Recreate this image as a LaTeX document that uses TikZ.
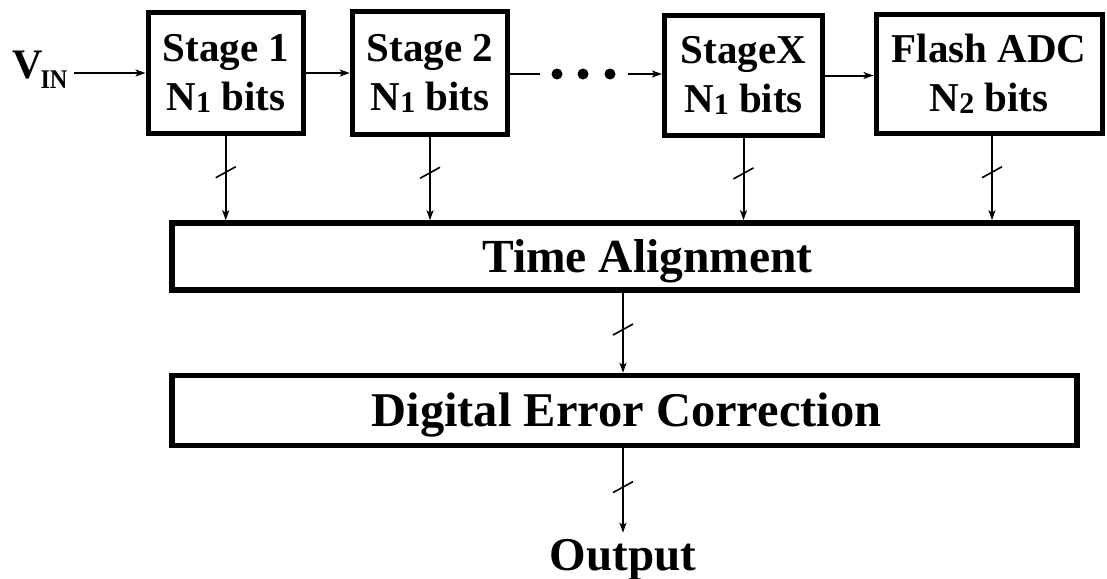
\documentclass[tikz,border=0pt]{standalone}
\usepackage{fontspec}
\usepackage{graphicx}
\setmainfont{Liberation Serif}
\usetikzlibrary{arrows.meta,calc}
% lowered, smaller index digit as in "N1"
\newcommand\lowdigit[1]{\raisebox{-2pt}{\fontsize{30}{30}\selectfont #1}}
\begin{document}
\begin{tikzpicture}[x=1pt,y=-1pt,
  stagebox/.style={draw, line width=5pt, inner sep=0pt, align=center,
    font=\bfseries\fontsize{41}{49}\selectfont},
  widebox/.style={draw, line width=5.5pt, inner sep=0pt, minimum width=905pt,
    text height=31.8pt, text depth=0pt,
    font=\bfseries\fontsize{47.5}{50}\selectfont},
  arr/.style={line width=2pt, -{Stealth[length=10pt,width=7pt,inset=2.5pt]}},
  wire/.style={line width=2pt},
  buslash/.style={line width=1.6pt},
  dotmark/.style={circle, fill, inner sep=0pt, minimum size=11pt},
  lbl/.style={inner sep=0pt, font=\bfseries\fontsize{47}{50}\selectfont}
]
\useasboundingbox (0,0) rectangle (1107,578);

% pipeline stages
\node[stagebox, minimum width=155.5pt, minimum height=121pt]   (s1) at (225.75,73)  {Stage 1\\N\lowdigit{1} bits};
\node[stagebox, minimum width=155.5pt, minimum height=122.5pt] (s2) at (430,73.25)  {Stage 2\\N\lowdigit{1} bits};
\node[stagebox, minimum width=158pt, minimum height=120pt]     (sx) at (743.5,75.5) {StageX\\N\lowdigit{1} bits};
\node[stagebox, minimum width=226pt, minimum height=119pt]     (fl) at (989,74)     {Flash ADC\\N\lowdigit{2} bits};

% back-end blocks
\node[widebox, minimum height=67pt] (ta)  at (624.5,256.5) {\hspace*{46pt}Time Alignment};
\node[widebox, minimum height=70pt, font=\bfseries\fontsize{48.5}{50}\selectfont] (dec) at (624.5,410.5) {\hspace*{4pt}Digital Error Correction};
\node[lbl, anchor=base] (out) at (623,570) {Output};

% input label
\node[inner sep=0pt, anchor=base west] (vin) at (12,78)
  {\bfseries\fontsize{42}{42}\selectfont V\kern-2pt\raisebox{-10pt}{\fontsize{27}{27}\selectfont\scalebox{0.9}[1]{IN}}};

% ellipsis between stage 2 and stage X
\node[dotmark] (d1) at (557,74) {};
\node[dotmark] (d2) at (583,74) {};
\node[dotmark] (d3) at (610,74) {};
\coordinate (gapL) at (540,74);
\coordinate (gapR) at (628,74);

% signal path
\draw[arr] ([xshift=6pt]vin.east |- s1.west) -- (s1.west);
\draw[arr] (s1.east) -- (s1.east -| s2.west);
\draw[wire] (s2.east) -- (s2.east |- gapL) -- (gapL);
\draw[arr] (gapR) -- (gapR -| sx.west);
\draw[arr] (sx.east) -- (sx.east -| fl.west);

% digital outputs to time alignment
\foreach \s/\dx in {s1/0,s2/0,sx/0,fl/3}{
  \draw[arr] ([xshift=\dx pt]\s.south) -- ([xshift=\dx pt]\s.south |- ta.north);
  \draw[buslash] ($([xshift=\dx pt]\s.south)!0.43!([xshift=\dx pt]\s.south |- ta.north)$) +(-10,5.5) -- +(10,-5.5);
}
\draw[arr] (ta.south -| out) -- (dec.north -| out);
\draw[buslash] ($(ta.south -| out)!0.46!(dec.north -| out)$) +(-10,5.5) -- +(10,-5.5);
\draw[arr] (dec.south -| out) -- ([yshift=6pt]out.north);
\draw[buslash] ($(dec.south -| out)!0.46!([yshift=6pt]out.north)$) +(-10,5.5) -- +(10,-5.5);
\end{tikzpicture}
\end{document}
